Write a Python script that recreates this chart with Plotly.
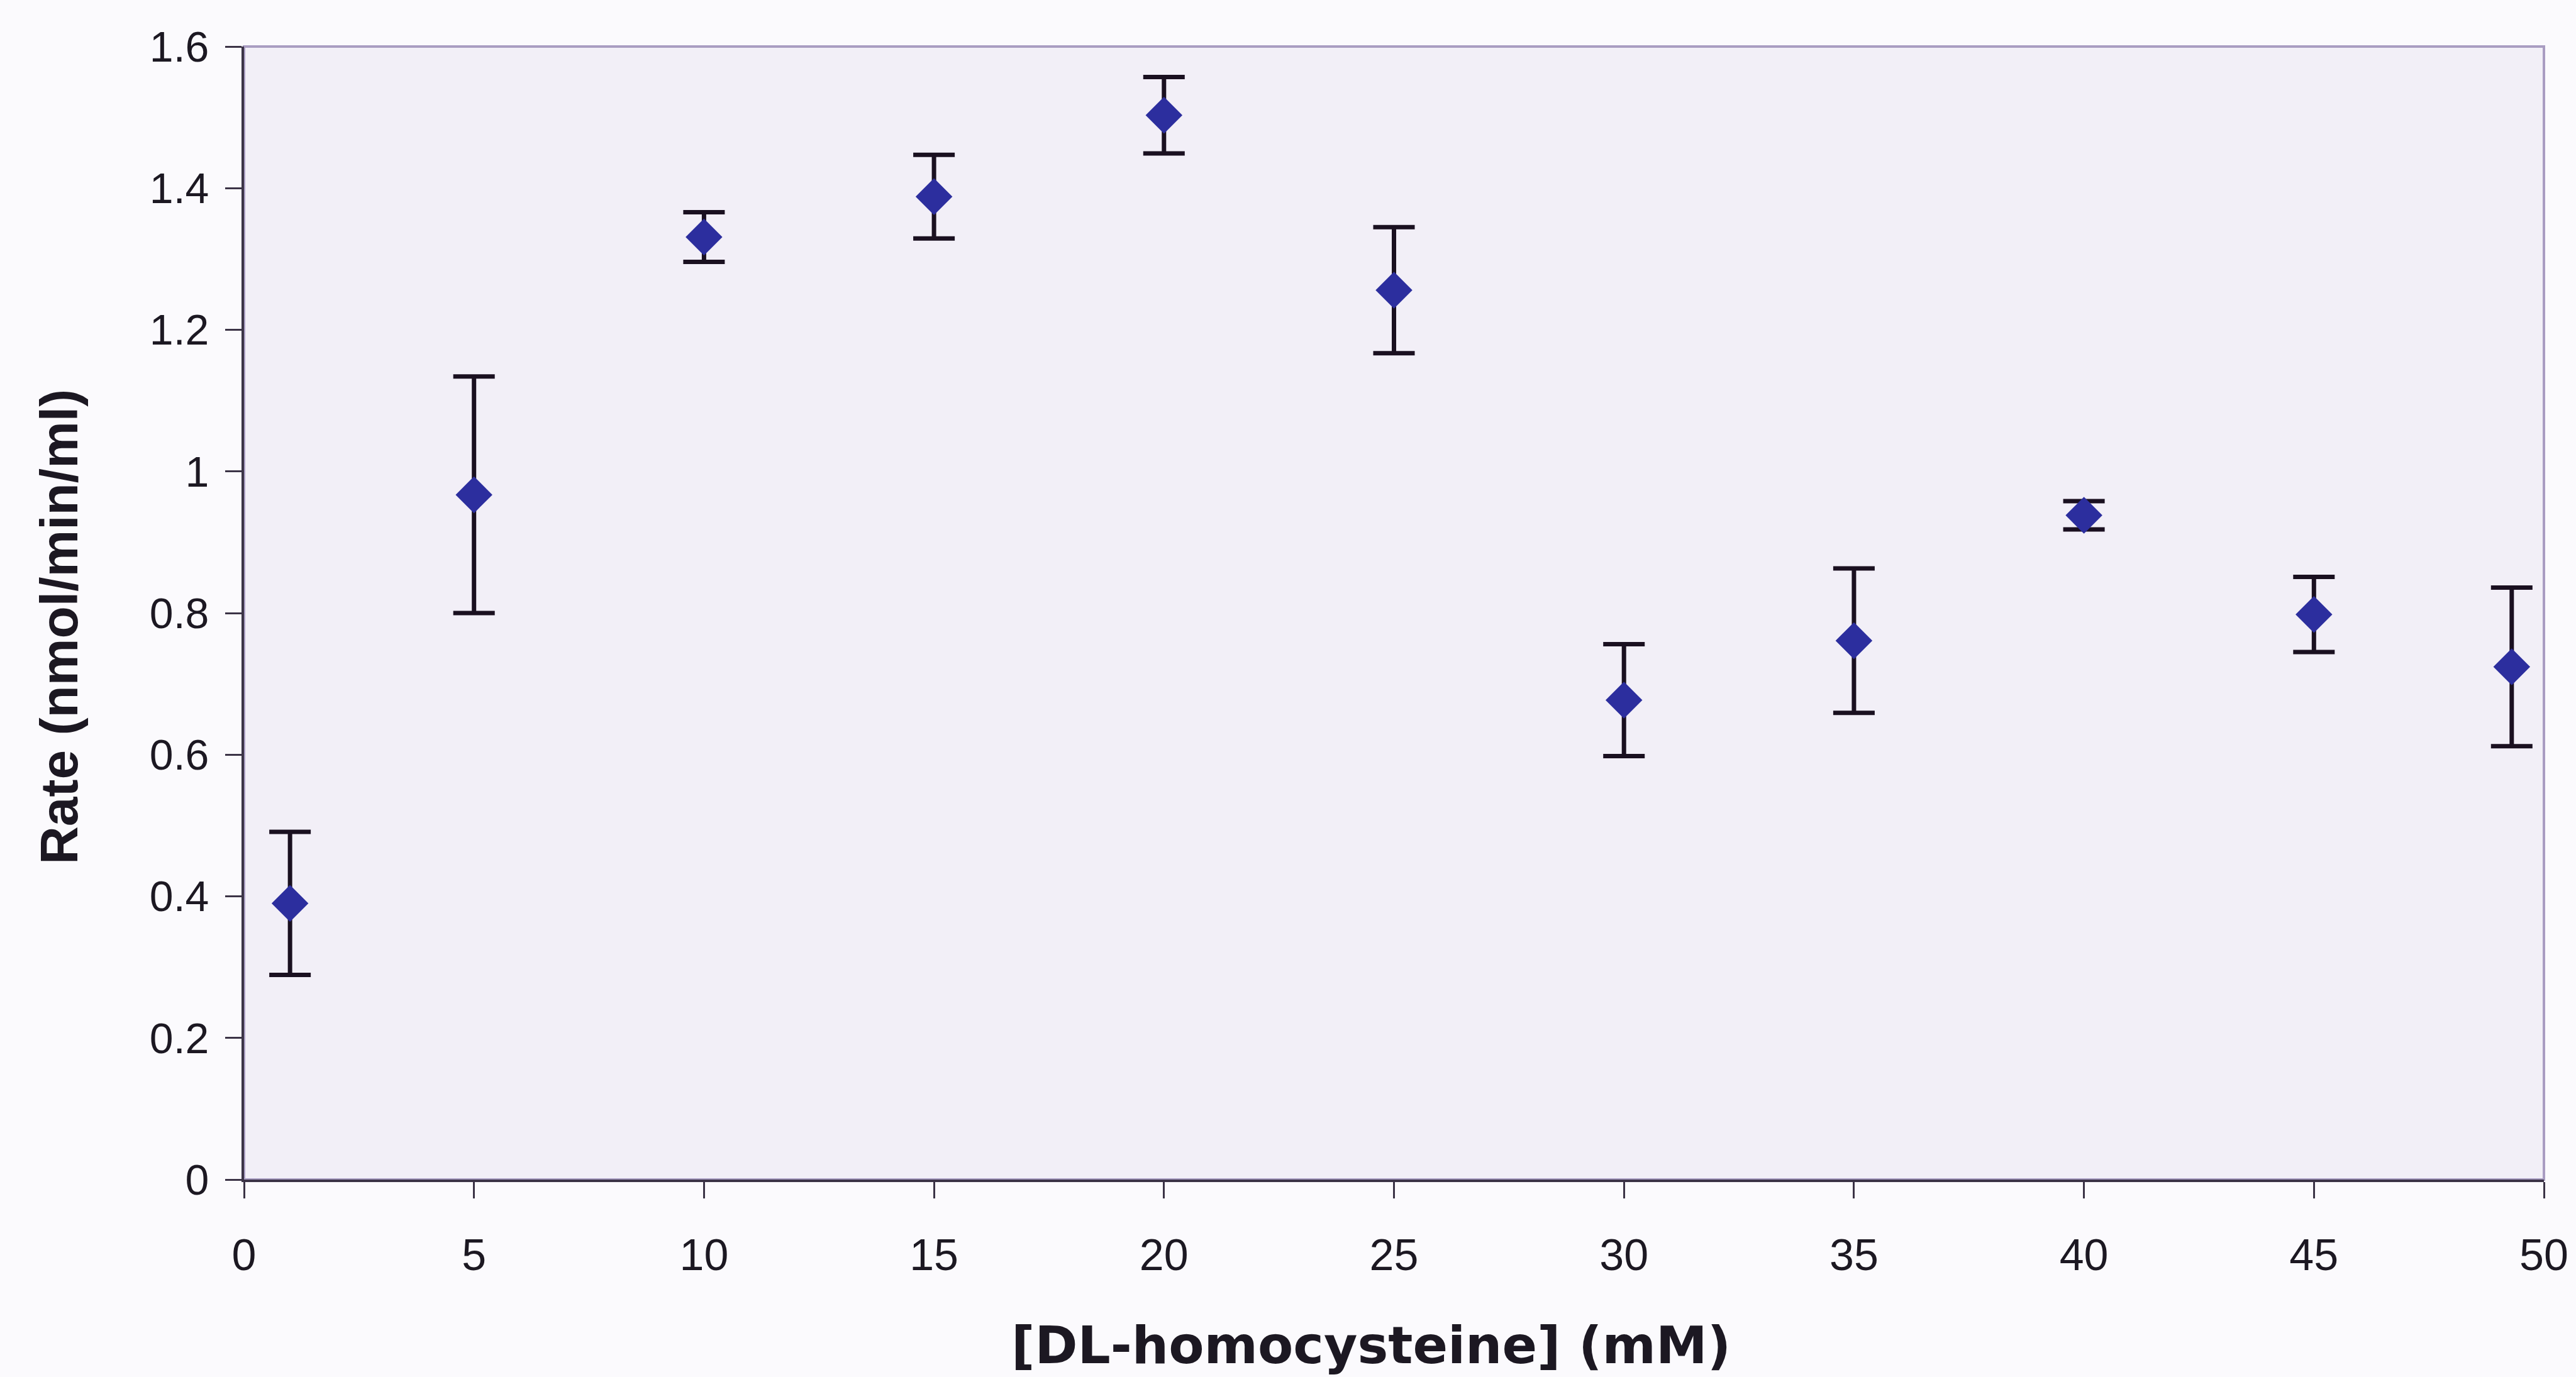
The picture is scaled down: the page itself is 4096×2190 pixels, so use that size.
import plotly.graph_objects as go

# Data
concentration_mM = [1, 5, 10, 15, 20, 25, 30, 35, 40, 45, 49.3]
rate = [0.39, 0.967, 1.331, 1.388, 1.503, 1.256, 0.677, 0.761, 0.938, 0.798, 0.724]
rate_err = [0.101, 0.167, 0.035, 0.059, 0.054, 0.089, 0.079, 0.102, 0.02, 0.053, 0.112]

x_ticks = [0, 5, 10, 15, 20, 25, 30, 35, 40, 45, 50]
y_ticks = [0, 0.2, 0.4, 0.6, 0.8, 1.0, 1.2, 1.4, 1.6]
y_tick_labels = ["0", "0.2", "0.4", "0.6", "0.8", "1", "1.2", "1.4", "1.6"]

x_title = "[DL-homocysteine] (mM)"
y_title = "Rate (nmol/min/ml)"

W, H = 4096, 2190
ML, MR, MT, MB = 388, 46, 74, 314

axis_dark = "#3b3346"
text_col = "#1c1822"

fig = go.Figure()
fig.add_trace(go.Scatter(
    x=concentration_mM, y=rate, mode="markers",
    marker=dict(symbol="diamond", size=45, color="#2c2e9e", line=dict(width=0)),
    error_y=dict(type="data", array=rate_err, visible=True,
                 color="#1a1020", thickness=7, width=33),
    cliponaxis=False, showlegend=False,
))

fig.update_layout(
    width=W, height=H,
    margin=dict(l=ML, r=MR, t=MT, b=MB),
    paper_bgcolor="#fbfafd",
    plot_bgcolor="#f2eff7",
    font=dict(family="Liberation Sans, Arial, sans-serif", color=text_col),
    shapes=[dict(type="rect", xref="paper", yref="paper", x0=0, y0=0, x1=1, y1=1,
                 line=dict(color="#a99dc2", width=4), layer="below")],
    annotations=[
        dict(text=x_title, xref="paper", yref="paper", x=0.49, y=-0.146,
             xanchor="center", yanchor="middle", showarrow=False,
             font=dict(family="DejaVu Sans, Arial", size=82, color=text_col, weight="bold")),
        dict(text=y_title, xref="paper", yref="paper", x=-0.0806, y=0.488,
             xanchor="center", yanchor="middle", showarrow=False, textangle=-90,
             font=dict(family="Liberation Sans, Arial", size=84, color=text_col, weight="bold")),
    ],
)

fig.update_xaxes(
    range=[0, 50], tickmode="array", tickvals=x_ticks,
    showgrid=False, zeroline=False,
    showline=True, linecolor=axis_dark, linewidth=4,
    ticks="outside", ticklen=26, tickwidth=3, tickcolor=axis_dark,
    tickfont=dict(size=70, color=text_col), ticklabelstandoff=30,
)
fig.update_yaxes(
    range=[0, 1.6], tickmode="array", tickvals=y_ticks, ticktext=y_tick_labels,
    showgrid=False, zeroline=False,
    showline=True, linecolor=axis_dark, linewidth=4,
    ticks="outside", ticklen=26, tickwidth=3, tickcolor=axis_dark,
    tickfont=dict(size=68, color=text_col), ticklabelstandoff=12,
)

fig.write_html("out.html")
